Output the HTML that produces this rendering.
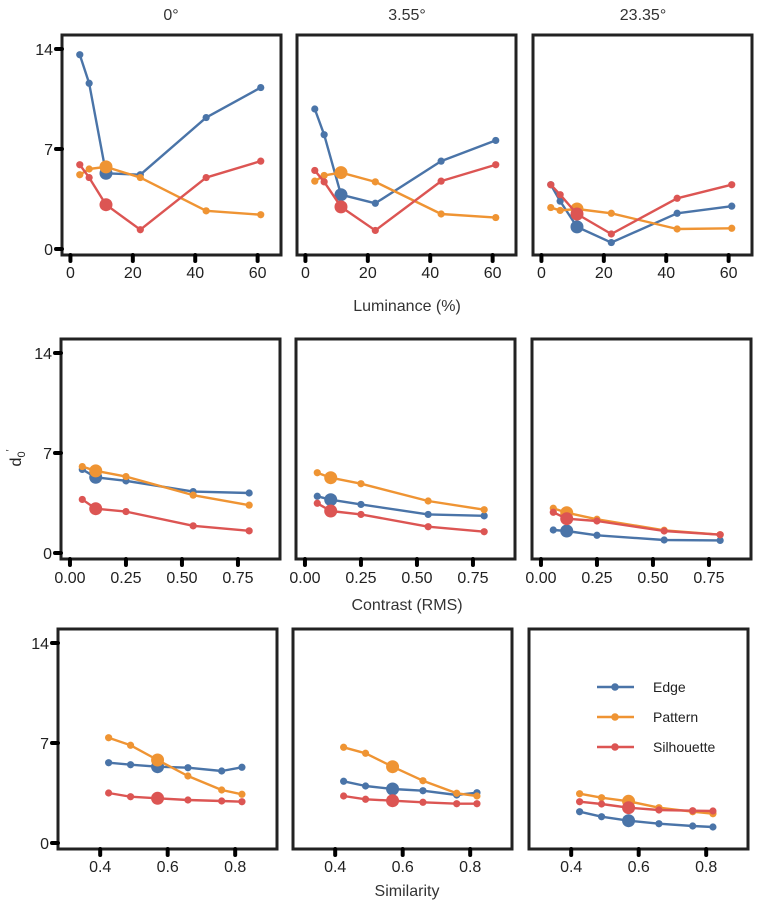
<!DOCTYPE html>
<html><head><meta charset="utf-8"><style>
body{margin:0;background:#fff;}
svg{display:block;font-family:"Liberation Sans",sans-serif;}
</style></head><body>
<svg id="chart" width="757" height="906" xmlns="http://www.w3.org/2000/svg"></svg>
<script>
const groups=["Edge","Pattern","Silhouette"];
const colors=["#4a74a8","#ef9433","#dc5553"];
const colTitles=["0°","3.55°","23.35°"];
const rowTitles=["Luminance (%)","Contrast (RMS)","Similarity"];
const lumX=[3,6,11.4,22.4,43.5,61];
const conX=[0.055,0.115,0.25,0.55,0.8];
const simX=[0.425,0.49,0.57,0.66,0.76,0.82];
const lumBig=2, conBig=1, simBig=2;
const lumTicks=[0,20,40,60];
const conTicks=[0,0.25,0.5,0.75];
const conTickLabels=["0.00","0.25","0.50","0.75"];
const simTicks=[0.4,0.6,0.8];
const yTicks=[0,7,14];
// luminance [panel][group]
const lumEdge=[[13.6,11.6,5.3,5.2,9.2,11.3],[9.8,8.0,3.8,3.2,6.15,7.6],[4.5,3.35,1.55,0.45,2.5,3.0]];
const lumPattern=[[5.2,5.6,5.75,5.0,2.67,2.4],[4.75,5.15,5.35,4.7,2.45,2.2],[2.9,2.7,2.8,2.5,1.4,1.45]];
const lumSil=[[5.9,5.0,3.1,1.35,5.0,6.15],[5.5,4.7,2.95,1.3,4.75,5.9],[4.5,3.8,2.45,1.05,3.55,4.5]];
const conEdge=[[5.85,5.3,5.05,4.3,4.2],[3.97,3.73,3.4,2.7,2.6],[1.61,1.54,1.24,0.91,0.88]];
const conPattern=[[6.05,5.75,5.35,4.05,3.35],[5.62,5.27,4.85,3.64,3.03],[3.13,2.82,2.36,1.59,1.28]];
const conSil=[[3.75,3.1,2.9,1.9,1.55],[3.48,2.94,2.7,1.84,1.49],[2.85,2.4,2.24,1.54,1.28]];
const simEdge=[[5.62,5.48,5.34,5.27,5.04,5.3],[4.32,3.99,3.78,3.66,3.36,3.52],[2.19,1.84,1.56,1.35,1.19,1.12]];
const simPattern=[[7.37,6.84,5.81,4.69,3.71,3.41],[6.7,6.28,5.34,4.36,3.48,3.29],[3.45,3.17,2.92,2.47,2.19,2.05]];
const simSil=[[3.5,3.24,3.13,3.01,2.94,2.89],[3.29,3.06,2.96,2.85,2.75,2.75],[2.89,2.73,2.47,2.31,2.26,2.24]];

const NS="http://www.w3.org/2000/svg";
const svg=document.getElementById("chart");
function mk(tag,attrs,parent){const e=document.createElementNS(NS,tag);for(const k in attrs)e.setAttribute(k,attrs[k]);(parent||svg).appendChild(e);return e;}

const rows=[
 {top:35,lefts:[62,297,533],xs:lumX,big:lumBig,ticks:lumTicks,labels:lumTicks.map(String),dmin:-2.7,scale:3.12,data:[lumEdge,lumPattern,lumSil],tickLabelY:278,titleY:311},
 {top:339,lefts:[61,296,532],xs:conX,big:conBig,ticks:conTicks,labels:conTickLabels,dmin:-0.04,scale:224,data:[conEdge,conPattern,conSil],tickLabelY:583,titleY:610},
 {top:629,lefts:[58,293,529],xs:simX,big:simBig,ticks:simTicks,labels:["0.4","0.6","0.8"],dmin:0.275,scale:337.5,data:[simEdge,simPattern,simSil],tickLabelY:872,titleY:896}
];
const W=219,H=220;
rows.forEach((r,ri)=>{
  r.lefts.forEach((L,pi)=>{
    const g=mk("g",{});
    
    
    const xS=v=>L+(v-r.dmin)*r.scale;
    const yS=v=>(r.top+H-6)-v*(200/14);
    // series
    r.data.forEach((ser,gi)=>{
      const vals=ser[pi];
      const pts=vals.map((v,i)=>xS(r.xs[i])+","+yS(v)).join(" ");
      const pl=mk("polyline",{points:pts,fill:"none",stroke:colors[gi],"stroke-width":2.4,"stroke-linejoin":"round"},g);
      
      
      vals.forEach((v,i)=>{
        const c=mk("circle",{cx:xS(r.xs[i]),cy:yS(v),r:i===r.big?6.5:3.6,fill:colors[gi]},g);
        
        
      });
    });
    const b=mk("rect",{x:L,y:r.top,width:W,height:H,fill:"none",stroke:"#222","stroke-width":3},g);
    
    
    r.ticks.forEach((t,i)=>{
      const x=xS(t);
      mk("line",{x1:x,y1:r.top+H,x2:x,y2:r.top+H+6,stroke:"#000","stroke-width":4,"stroke-linecap":"round"},g);
      const tx=mk("text",{x:x,y:r.tickLabelY,"text-anchor":"middle","font-size":16,fill:"#222"},g);
      tx.textContent=r.labels[i];
      
      
    });
    if(pi===0){
      yTicks.forEach(t=>{
        const y=yS(t);
        mk("line",{x1:L-6,y1:y,x2:L,y2:y,stroke:"#000","stroke-width":4,"stroke-linecap":"round"},g);
        const tx=mk("text",{x:L-9,y:y+6,"text-anchor":"end","font-size":16,fill:"#222"},g);
        tx.textContent=String(t);
        
        
      });
    }
  });
  const t=mk("text",{x:407,y:r.titleY,"text-anchor":"middle","font-size":16,fill:"#333"});
  t.textContent=rowTitles[ri];
  
  
});
[171,407,643].forEach((x,i)=>{
  const t=mk("text",{x:x,y:20,"text-anchor":"middle","font-size":16,fill:"#333"});
  t.textContent=colTitles[i];
  
  
});
const yl=mk("text",{transform:"translate(21,458) rotate(-90)","text-anchor":"middle","font-size":16,fill:"#222"});
yl.innerHTML='d<tspan font-size="11" dy="4">0</tspan><tspan font-size="10" dy="-12">\u2032</tspan>';


// legend
[687,717,747].forEach((y,i)=>{
  const g=mk("g",{});
  
  
  mk("line",{x1:597,y1:y,x2:634,y2:y,stroke:colors[i],"stroke-width":2.4},g);
  mk("circle",{cx:615,cy:y,r:3.8,fill:colors[i]},g);
  const t=mk("text",{x:653,y:y+5,"font-size":14,fill:"#222"},g);
  t.textContent=groups[i];
});
</script>
</body></html>
